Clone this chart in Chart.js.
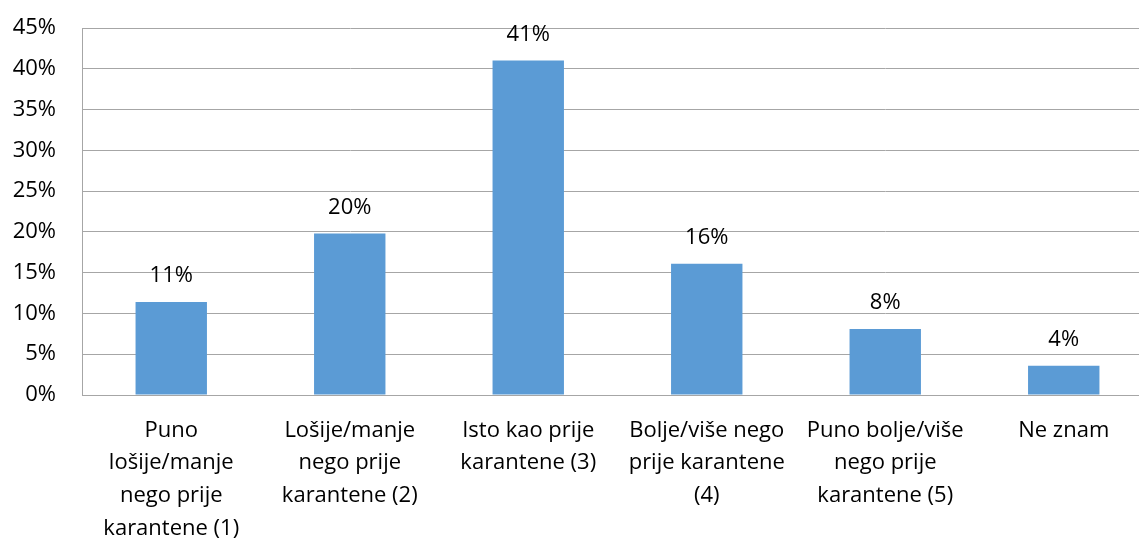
<!DOCTYPE html>
<html>
<head>
<meta charset="utf-8">
<script src="https://cdn.jsdelivr.net/npm/chart.js@4/dist/chart.umd.min.js"></script>
<style>
  html, body { margin: 0; padding: 0; background: #fff; overflow: hidden; }
  #frame { width: 1139px; height: 538px; overflow: hidden; }
  canvas { display: block; }
</style>
</head>
<body>
<!-- the plot area runs a little past the right edge of the visible frame -->
<div id="frame"><canvas id="c" width="1154" height="538"></canvas></div>
<script>
// Survey answers (x-axis categories, wrapped into lines)
const categories = [
  ["Puno", "lošije/manje", "nego prije", "karantene (1)"],
  ["Lošije/manje", "nego prije", "karantene (2)"],
  ["Isto kao prije", "karantene (3)"],
  ["Bolje/više nego", "prije karantene", "(4)"],
  ["Puno bolje/više", "nego prije", "karantene (5)"],
  ["Ne znam"]
];

// Share of respondents, in percent
const shares = [11.4, 19.8, 41.0, 16.1, 8.1, 3.6];

// Y-axis range and step, in percent
const yMax = 45;
const yStep = 5;

const FONT = "'Open Sans', 'Noto Sans', sans-serif";
const FONT_SIZE = 22;
const TEXT = "#000000";
const GRID = "#A6A6A6";

// Draws the rounded percentage above each bar
const valueLabels = {
  id: "valueLabels",
  afterDatasetsDraw(chart) {
    const ctx = chart.ctx;
    const meta = chart.getDatasetMeta(0);
    ctx.save();
    ctx.font = FONT_SIZE + "px " + FONT;
    ctx.fillStyle = TEXT;
    ctx.textAlign = "center";
    ctx.textBaseline = "middle";
    meta.data.forEach((bar, i) => {
      const v = chart.data.datasets[0].data[i];
      ctx.fillText(Math.round(v) + "%", bar.x, bar.y - 26);
    });
    ctx.restore();
  }
};

new Chart(document.getElementById("c"), {
  type: "bar",
  data: {
    labels: categories,
    datasets: [{
      data: shares,
      backgroundColor: "#5B9BD5",
      borderWidth: 0,
      categoryPercentage: 0.8,
      barPercentage: 0.5
    }]
  },
  options: {
    responsive: false,
    animation: false,
    devicePixelRatio: 1,
    layout: { padding: { top: 28, right: 1, left: 0, bottom: 0 } },
    plugins: {
      legend: { display: false },
      tooltip: { enabled: false }
    },
    scales: {
      x: {
        grid: { display: false, drawTicks: false },
        border: { color: GRID, width: 1 },
        ticks: {
          color: TEXT,
          font: { family: FONT, size: FONT_SIZE, lineHeight: 32.7 / FONT_SIZE },
          padding: 19,
          maxRotation: 0,
          autoSkip: false
        },
        afterFit(scale) {
          scale.height = 143;
          scale.paddingLeft = 0;
          scale.paddingRight = 0;
        }
      },
      y: {
        min: 0,
        max: yMax,
        grid: { color: GRID, lineWidth: 1, drawTicks: false },
        border: { color: GRID, width: 1 },
        ticks: {
          stepSize: yStep,
          color: TEXT,
          font: { family: FONT, size: FONT_SIZE },
          padding: 26,
          callback: v => v + "%"
        },
        afterFit(scale) {
          scale.width = 82;
          scale.paddingTop = 0;
          scale.paddingBottom = 0;
        }
      }
    }
  },
  plugins: [valueLabels]
});
</script>
</body>
</html>
